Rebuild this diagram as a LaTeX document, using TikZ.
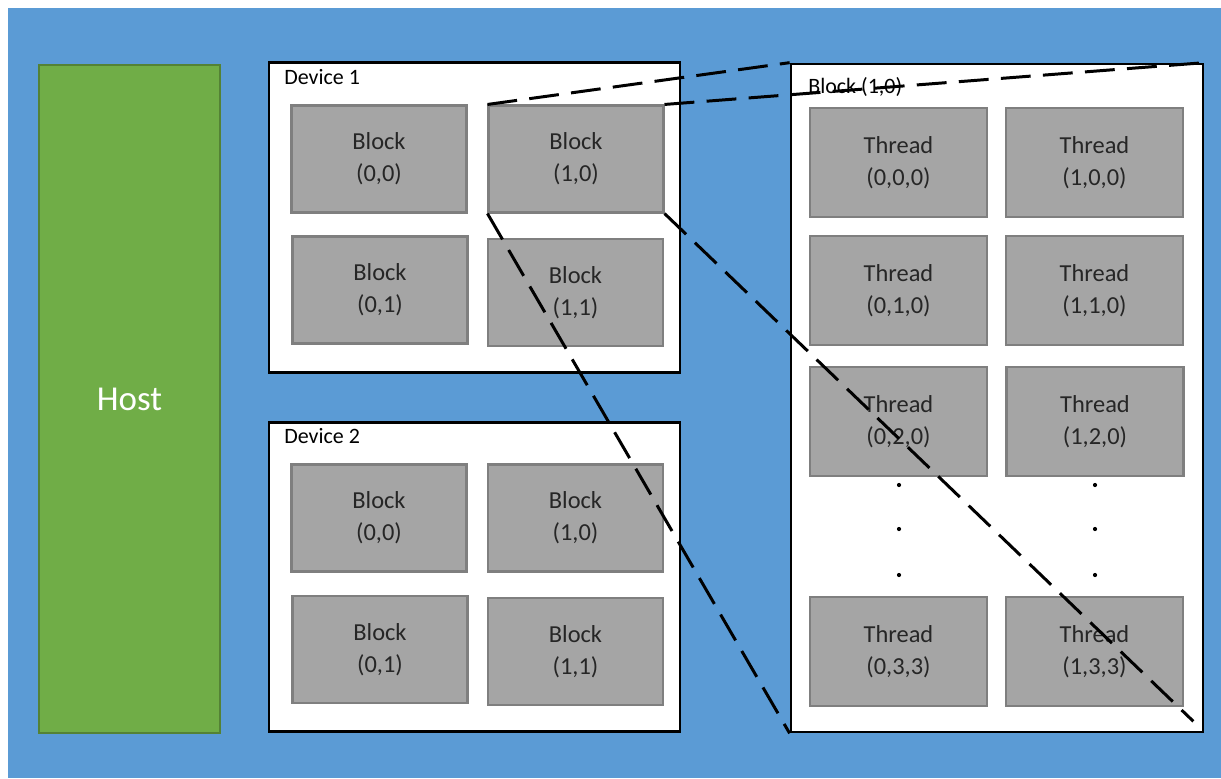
\documentclass[tikz,border=0pt]{standalone}
\usepackage{fontspec}
\setmainfont{Carlito}
\usetikzlibrary{calc}

\definecolor{canvasBlue}{HTML}{5B9BD5}
\definecolor{hostGreen}{HTML}{70AD47}
\definecolor{hostEdge}{HTML}{548235}
\definecolor{cellFill}{HTML}{A5A5A5}
\definecolor{cellEdge}{HTML}{7F7F7F}
\definecolor{cellText}{HTML}{262626}

\begin{document}
\begin{tikzpicture}[
  x=0.02cm, y=-0.02cm,
  host box/.style={draw=hostEdge, line width=1.2pt, fill=hostGreen, inner sep=0pt,
    minimum width=3.62cm, minimum height=13.38cm, text=white,
    font=\fontsize{19.9}{24}\selectfont},
  device box/.style={draw=black, line width=1.5pt, fill=white, inner sep=0pt,
    minimum width=8.22cm, minimum height=6.19cm},
  frame box/.style={draw=black, line width=1.6pt, fill=white, inner sep=0pt,
    minimum width=8.24cm, minimum height=13.36cm},
  box title/.style={anchor=base west, inner sep=0pt, font=\fontsize{12.5}{15}\selectfont},
  cell/.style={draw=cellEdge, line width=1.2pt, fill=cellFill, inner sep=0pt,
    align=center, text=cellText, font=\fontsize{13.9}{18.2}\selectfont},
  block cell/.style={cell, minimum width=3.5cm, minimum height=2.14cm},
  thread cell/.style={cell, minimum width=3.54cm, minimum height=2.18cm},
  dot/.style={circle, fill=black, inner sep=0pt, minimum size=2.4pt},
  zoom line/.style={line width=1.7pt, dash pattern=on 17pt off 7pt}
]

\useasboundingbox (0,0) rectangle (1221,778);
\fill[canvasBlue] (8,8) rectangle (1221,778);

% -----------------------------------------------------------------------------
% Host.
% -----------------------------------------------------------------------------
\node[host box] (host) at (129.5,399) {Host};

% -----------------------------------------------------------------------------
% Device 1 and its blocks.
% -----------------------------------------------------------------------------
\node[device box] (devOne) at (474.5,217.5) {};
\node[box title] (devOneTitle) at (284,84) {Device 1};
\node[block cell] (devOneB00) at (379,159) {Block\\(0,0)};
\node[block cell] (devOneB10) at (576,159) {Block\\(1,0)};
\node[block cell] (devOneB01) at (380,290) {Block\\(0,1)};
\node[block cell] (devOneB11) at (575.5,292.5) {Block\\(1,1)};

% -----------------------------------------------------------------------------
% Device 2 and its blocks.
% -----------------------------------------------------------------------------
\node[device box] (devTwo) at (474.5,577) {};
\node[box title] (devTwoTitle) at (284,443) {Device 2};
\node[block cell] (devTwoB00) at (379,518) {Block\\(0,0)};
\node[block cell] (devTwoB10) at (575.5,518) {Block\\(1,0)};
\node[block cell] (devTwoB01) at (380,649.5) {Block\\(0,1)};
\node[block cell] (devTwoB11) at (575.5,651.5) {Block\\(1,1)};

% -----------------------------------------------------------------------------
% Zoomed view of Block (1,0): its threads.
% -----------------------------------------------------------------------------
\node[frame box] (blockFrame) at (997,398) {};
\node[box title] (blockFrameTitle) at (808,93) {Block (1,0)};

\node[thread cell] (thr000) at (898.5,162.5) {Thread\\(0,0,0)};
\node[thread cell] (thr100) at (1094.5,162.5) {Thread\\(1,0,0)};
\node[thread cell] (thr010) at (898.5,290.5) {Thread\\(0,1,0)};
\node[thread cell] (thr110) at (1094.5,290.5) {Thread\\(1,1,0)};
\node[thread cell] (thr020) at (898.5,421.5) {Thread\\(0,2,0)};
\node[thread cell] (thr120) at (1095,421.5) {Thread\\(1,2,0)};
\node[thread cell] (thr033) at (898.5,651.5) {Thread\\(0,3,3)};
\node[thread cell] (thr133) at (1094.5,651.5) {Thread\\(1,3,3)};

\node[dot] (dotLeftA) at (899,485) {};
\node[dot] (dotLeftB) at (899,529) {};
\node[dot] (dotLeftC) at (899,575) {};
\node[dot] (dotRightA) at (1095,485) {};
\node[dot] (dotRightB) at (1095,529) {};
\node[dot] (dotRightC) at (1095,575) {};

% -----------------------------------------------------------------------------
% Zoom lines from Device 1 Block (1,0) to the frame corners.
% -----------------------------------------------------------------------------
\coordinate (frameLowRight) at ($(blockFrame.south east)+(-11,-12)$);

\draw[zoom line] (devOneB10.north west) -- (blockFrame.north west);
\draw[zoom line] (devOneB10.north east) -- (blockFrame.north east);
\draw[zoom line] (devOneB10.south west) -- (blockFrame.south west);
\draw[zoom line] (devOneB10.south east) -- (frameLowRight);

\end{tikzpicture}
\end{document}
